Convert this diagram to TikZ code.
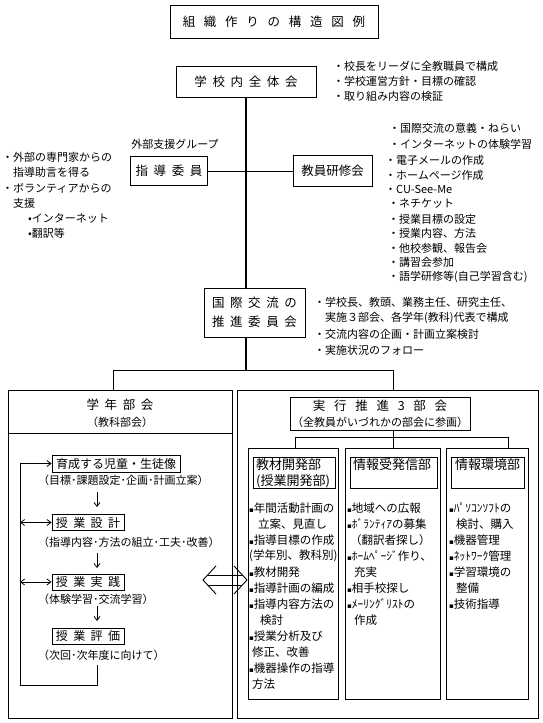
\documentclass[tikz,border=0pt]{standalone}
\usepackage{fontspec}
\setmainfont{Noto Sans CJK JP}
\newfontfamily\dejavu{DejaVu Sans}
\usetikzlibrary{arrows.meta}
\newcommand\sg{\hspace{0.45em}}
\newcommand\tg{\hspace{0.7em}}
\newcommand\sq{{\dejavu\fontsize{7}{9}\selectfont ▪}}
\begin{document}
\begin{tikzpicture}[x=1pt,y=-1pt,
  bx/.style={draw,line width=0.9pt,inner sep=0pt,align=center},
  tx/.style={inner sep=0pt,anchor=west,font=\fontsize{11}{13}\selectfont},
  ct/.style={inner sep=0pt,font=\fontsize{11}{13}\selectfont},
  cl/.style={inner sep=0pt,anchor=west,font=\fontsize{11.5}{14}\selectfont},
  hd/.style={font=\fontsize{12.5}{19}\selectfont},
  ln/.style={line width=0.9pt},
  mainln/.style={line width=1.4pt},
  arr/.style={line width=0.8pt,-{Straight Barb[length=4pt,width=6pt]}},
  darr/.style={line width=0.8pt,{Straight Barb[length=4pt,width=6pt]}-{Straight Barb[length=4pt,width=6pt]}},
]
\fill[white] (0,0) rectangle (543,723);
\useasboundingbox (0,0) rectangle (543,723);

% title
\node[bx,hd,minimum width=208pt,minimum height=33pt] (title) at (274,21.5) {組\tg 織\tg 作\tg り\tg の\tg 構\tg 造\tg 図\tg 例};

% school-wide meeting
\node[bx,hd,minimum width=140pt,minimum height=31pt] (zentai) at (246,82) {学\sg 校\sg 内\sg 全\sg 体\sg 会};
\node[tx] (zb1) at (333,66) {・校長をリーダに全教職員で構成};
\node[tx] (zb2) at (333,81) {・学校運営方針・目標の確認};
\node[tx] (zb3) at (333,96) {・取り組み内容の検証};

% external support
\node[ct] (gaibu) at (175,144) {外部支援グループ};
\node[bx,hd,minimum width=77pt,minimum height=29pt] (shido) at (169,171) {指\sg 導\sg 委\sg 員};
\node[bx,hd,minimum width=79pt,minimum height=31pt] (kenshu) at (332.5,171) {教員研修会};

\node[tx] (l1) at (2,157) {・外部の専門家からの};
\node[tx] (l2) at (13,172) {指導助言を得る};
\node[tx] (l3) at (2,188) {・ボランティアからの};
\node[tx] (l4) at (13,203) {支援};
\node[tx] (l5) at (28,218) {•インターネット};
\node[tx] (l6) at (28,233) {•翻訳等};

\node[tx] (k1) at (389,128) {・国際交流の意義・ねらい};
\node[tx] (k2) at (389,144) {・インターネットの体験学習};
\node[tx] (k3) at (385,160) {・電子メールの作成};
\node[tx] (k4) at (385,175) {・ホームページ作成};
\node[tx] (k5) at (385,189) {・CU-See-Me};
\node[tx] (k6) at (388,204) {・ネチケット};
\node[tx] (k7) at (388,219) {・授業目標の設定};
\node[tx] (k8) at (388,233) {・授業内容、方法};
\node[tx] (k9) at (388,248) {・他校参観、報告会};
\node[tx] (k10) at (388,262) {・講習会参加};
\node[tx] (k11) at (388,277) {・語学研修等(自己学習含む)};

% promotion committee
\node[bx,hd,minimum width=101pt,minimum height=49pt] (suishin) at (254.5,312.5) {国\sg 際\sg 交\sg 流\sg の\\推\sg 進\sg 委\sg 員\sg 会};
\node[tx] (s1) at (314,302) {・学校長、教頭、業務主任、研究主任、};
\node[tx] (s2) at (325,318) {実施３部会、各学年(教科)代表で構成};
\node[tx] (s3) at (314,334) {・交流内容の企画・計画立案検討};
\node[tx] (s4) at (314,350) {・実施状況のフォロー};

% big boxes
\node[bx,minimum width=224pt,minimum height=328pt] (gakunen) at (120,554) {};
\node[bx,minimum width=301pt,minimum height=328pt] (jikko) at (387.5,554) {};

% main trunk
\draw[mainln] (zentai.south) -- (zentai.south |- suishin.north);
\draw[ln] (shido) -- (kenshu);
\coordinate (jc) at (246,370);
\coordinate (jl) at (113,370);
\coordinate (jr) at (393,370);
\draw[mainln] (jc |- suishin.south) -- (jc);
\draw[ln] (jl) -- (jr);
\draw[ln] (jl) -- (jl |- gakunen.north);
\draw[ln] (jr) -- (jr |- jikko.north);

% left box contents
\draw[ln] (gakunen.west |- 0,433) -- (gakunen.east |- 0,433);
\node[ct,hd] (gh1) at (120,405) {学\sg 年\sg 部\sg 会};
\node[ct] (gh2) at (120,422) {（教科部会）};

\node[bx,font=\fontsize{12}{14}\selectfont,minimum width=128pt,minimum height=17pt] (ikusei) at (116,463.5) {育成する児童・生徒像};
\node[tx] (ik2) at (38,480) {（目標･課題設定･企画･計画立案）};
\node[bx,font=\fontsize{12}{14}\selectfont,minimum width=72pt,minimum height=16pt] (sekkei) at (88,522.5) {授\sg 業\sg 設\sg 計};
\node[tx] (se2) at (38,542) {（指導内容･方法の組立･工夫･改善）};
\node[bx,font=\fontsize{12}{14}\selectfont,minimum width=72pt,minimum height=16pt] (jissen) at (88,582) {授\sg 業\sg 実\sg 践};
\node[tx] (ji2) at (38,599) {（体験学習･交流学習）};
\node[bx,font=\fontsize{12}{14}\selectfont,minimum width=72pt,minimum height=16pt] (hyoka) at (88,636) {授\sg 業\sg 評\sg 価};
\node[tx] (hy2) at (38,655) {（次回･次年度に向けて）};

\coordinate (d1a) at (97,492); \coordinate (d1b) at (97,507);
\coordinate (d2a) at (97,553); \coordinate (d2b) at (97,568);
\coordinate (d3a) at (97,606); \coordinate (d3b) at (97,621);
\draw[arr] (d1a) -- (d1b);
\draw[arr] (d2a) -- (d2b);
\draw[arr] (d3a) -- (d3b);

\coordinate (fb0) at (97,665);
\coordinate (fb1) at (97,685);
\coordinate (fb2) at (20,685);
\draw[arr] (fb0) -- (fb1) -- (fb2) -- (fb2 |- ikusei.west) -- (ikusei.west);
\draw[darr] (fb2 |- sekkei.west) -- (sekkei.west);
\draw[darr] (fb2 |- jissen.west) -- (jissen.west);

% double hollow arrow between boxes
\draw[ln] (216,566) -- (203,580) -- (216,594);
\draw[ln] (234,566) -- (247,580) -- (234,594);
\draw[ln] (207.6,575) -- (242.4,575);
\draw[ln] (207.6,585) -- (242.4,585);

% right box contents
\node[bx,minimum width=180pt,minimum height=33pt,font=\fontsize{11}{16}\selectfont] (hdr) at (380,413.5) {{\fontsize{12.5}{16}\selectfont 実\tg 行\tg 推\tg 進\tg 3\tg 部\tg 会}\\（全教員がいづれかの部会に参画）};

\node[bx,minimum width=90pt,minimum height=251pt] (col1) at (293,573.5) {};
\node[bx,minimum width=95pt,minimum height=251pt] (col2) at (392.5,573.5) {};
\node[bx,minimum width=82pt,minimum height=251pt] (col3) at (487,573.5) {};

\coordinate (bj) at (393,437);
\coordinate (bl) at (295,437);
\coordinate (br) at (508,437);
\draw[ln] (hdr.south -| bj) -- (bj);
\draw[ln] (bl) -- (br);
\draw[ln] (bl) -- (bl |- col1.north);
\draw[ln] (bj) -- (bj |- col2.north);
\draw[ln] (br) -- (br |- col3.north);

\node[bx,minimum width=82pt,minimum height=31pt] (h1) at (294,472.5) {};
\node[bx,minimum width=87pt,minimum height=31pt] (h2) at (393.5,472.5) {};
\node[bx,minimum width=73pt,minimum height=31pt] (h3) at (487.5,472.5) {};
\node[inner sep=0pt,anchor=north west,align=left,font=\fontsize{13}{16}\selectfont] (h1t) at (256,458) {教材開発部\\(授業開発部)};
\node[inner sep=0pt,anchor=north west,font=\fontsize{13}{16}\selectfont] (h2t) at (353,458) {情報受発信部};
\node[inner sep=0pt,anchor=north west,font=\fontsize{13}{16}\selectfont] (h3t) at (455,458) {情報環境部};

\node[cl] (c1a) at (249,508) {\sq 年間活動計画の};
\node[cl] (c1b) at (258,524) {立案、見直し};
\node[cl] (c1c) at (249,540) {\sq 指導目標の作成};
\node[cl] (c1d) at (249,556) {(学年別、教科別)};
\node[cl] (c1e) at (249,572) {\sq 教材開発};
\node[cl] (c1f) at (249,588) {\sq 指導計画の編成};
\node[cl] (c1g) at (249,604) {\sq 指導内容方法の};
\node[cl] (c1h) at (260,620) {検討};
\node[cl] (c1i) at (249,636) {\sq 授業分析及び};
\node[cl] (c1j) at (252,652) {修正、改善};
\node[cl] (c1k) at (249,668) {\sq 機器操作の指導};
\node[cl] (c1l) at (252,684) {方法};

\node[cl] (c2a) at (347,508) {\sq 地域への広報};
\node[cl] (c2b) at (347,524) {\sq ﾎﾞﾗﾝﾃｨｱの募集};
\node[cl] (c2c) at (350,540) {（翻訳者探し）};
\node[cl] (c2d) at (347,556) {\sq ﾎｰﾑﾍﾟｰｼﾞ作り、};
\node[cl] (c2e) at (354,572) {充実};
\node[cl] (c2f) at (347,588) {\sq 相手校探し};
\node[cl] (c2g) at (347,604) {\sq ﾒｰﾘﾝｸﾞﾘｽﾄの};
\node[cl] (c2h) at (354,620) {作成};

\node[cl] (c3a) at (449,508) {\sq ﾊﾟｿｺﾝｿﾌﾄの};
\node[cl] (c3b) at (456,524) {検討、購入};
\node[cl] (c3c) at (449,540) {\sq 機器管理};
\node[cl] (c3d) at (449,556) {\sq ﾈｯﾄﾜｰｸ管理};
\node[cl] (c3e) at (449,572) {\sq 学習環境の};
\node[cl] (c3f) at (456,588) {整備};
\node[cl] (c3g) at (449,604) {\sq 技術指導};
\end{tikzpicture}
\end{document}
